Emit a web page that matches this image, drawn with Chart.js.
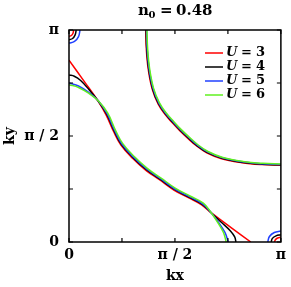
<!DOCTYPE html>
<html>
<head>
<meta charset="utf-8">
<script src="https://cdn.jsdelivr.net/npm/chart.js@4"></script>
<style>
  html, body { margin: 0; padding: 0; background: #fff; }
  #wrap { width: 291px; height: 287px; }
</style>
</head>
<body>
<div id="wrap"><canvas id="chart"></canvas></div>
<script>
// Fermi surface, kx and ky in units of pi
const uValues = [3, 4, 5, 6];
const uColors = ['#ff0000', '#000000', '#2040ff', '#60f020'];

const tickValues = [0, 0.25, 0.5, 0.75, 1];
const tickLabels = ['0', '', 'π / 2', '', 'π'];

// lower-left band
const mainU3 = [[0,0.858],[0.07,0.760],[0.138,0.664],[0.175,0.600],[0.211,0.520],[0.245,0.457],[0.300,0.395],[0.363,0.338],[0.425,0.295],[0.495,0.245],[0.563,0.209],[0.626,0.175],[0.672,0.137],[0.765,0.068],[0.858,0]];
const mainU4 = [[0,0.788],[0.025,0.782],[0.055,0.762],[0.095,0.718],[0.138,0.665],[0.178,0.603],[0.214,0.523],[0.248,0.460],[0.303,0.398],[0.366,0.341],[0.428,0.298],[0.498,0.248],[0.566,0.212],[0.629,0.178],[0.672,0.137],[0.720,0.092],[0.762,0.052],[0.782,0.024],[0.788,0]];
const mainU5 = [[0,0.750],[0.045,0.736],[0.095,0.704],[0.138,0.666],[0.180,0.605],[0.216,0.525],[0.250,0.462],[0.305,0.400],[0.368,0.343],[0.430,0.300],[0.500,0.250],[0.568,0.214],[0.631,0.180],[0.672,0.137],[0.706,0.092],[0.736,0.045],[0.752,0]];
const mainU6 = [[0,0.742],[0.045,0.729],[0.095,0.700],[0.138,0.666],[0.183,0.608],[0.219,0.528],[0.253,0.465],[0.308,0.403],[0.371,0.346],[0.433,0.303],[0.503,0.253],[0.571,0.217],[0.634,0.183],[0.672,0.137],[0.702,0.092],[0.729,0.045],[0.742,0]];

// upper-right band
const outerU3 = [[0.362,1.0],[0.365,0.909],[0.374,0.815],[0.393,0.720],[0.421,0.650],[0.454,0.601],[0.490,0.560],[0.524,0.524],[0.560,0.490],[0.601,0.454],[0.650,0.421],[0.720,0.393],[0.815,0.374],[0.909,0.365],[1.0,0.362]];
const outerU4 = [[0.364,1.0],[0.367,0.911],[0.376,0.817],[0.395,0.722],[0.423,0.652],[0.456,0.603],[0.492,0.562],[0.526,0.526],[0.562,0.492],[0.603,0.456],[0.652,0.423],[0.722,0.395],[0.817,0.376],[0.911,0.367],[1.0,0.364]];
const outerU5 = [[0.366,1.0],[0.369,0.913],[0.378,0.819],[0.397,0.724],[0.425,0.654],[0.458,0.605],[0.494,0.564],[0.528,0.528],[0.564,0.494],[0.605,0.458],[0.654,0.425],[0.724,0.397],[0.819,0.378],[0.913,0.369],[1.0,0.366]];
const outerU6 = [[0.368,1.0],[0.371,0.915],[0.380,0.821],[0.399,0.726],[0.427,0.656],[0.460,0.607],[0.496,0.566],[0.530,0.530],[0.566,0.496],[0.607,0.460],[0.656,0.427],[0.726,0.399],[0.821,0.380],[0.915,0.371],[1.0,0.368]];

// small pockets round (0, pi) and (pi, 0)
const topLeftU3 = [[0,0.970],[0.011,0.974],[0.019,0.985],[0.022,1.0]];
const topLeftU4 = [[0,0.954],[0.017,0.960],[0.029,0.977],[0.034,1.0]];
const topLeftU5 = [[0,0.938],[0.026,0.946],[0.045,0.969],[0.052,1.0]];
const bottomRightU3 = [[0.970,0],[0.974,0.011],[0.985,0.019],[1.0,0.022]];
const bottomRightU4 = [[0.954,0],[0.960,0.017],[0.977,0.029],[1.0,0.034]];
const bottomRightU5 = [[0.938,0],[0.946,0.026],[0.969,0.045],[1.0,0.052]];

const pieces = [
  [mainU3, outerU3, topLeftU3, bottomRightU3],
  [mainU4, outerU4, topLeftU4, bottomRightU4],
  [mainU5, outerU5, topLeftU5, bottomRightU5],
  [mainU6, outerU6],
];

const serif = 'DejaVu Serif';

const datasets = [];
pieces.forEach((list, i) => {
  list.forEach(pts => {
    datasets.push({
      label: 'U = ' + uValues[i],
      data: pts.map(p => ({ x: p[0], y: p[1] })),
      borderColor: uColors[i],
      borderWidth: 1.5,
      pointRadius: 0,
      showLine: true,
      tension: 0.4,
      fill: false,
      order: uValues.length - 1 - i, // U=6 ends up on top
    });
  });
});

// frame with inward ticks, title and legend
const decor = {
  id: 'decor',
  afterDraw(chart) {
    const { ctx, chartArea: a, scales } = chart;
    ctx.save();
    ctx.strokeStyle = '#000';
    ctx.lineWidth = 1.5;
    ctx.strokeRect(a.left, a.top, a.right - a.left, a.bottom - a.top);
    ctx.lineWidth = 1.2;
    ctx.beginPath();
    tickValues.forEach(v => {
      const x = scales.x.getPixelForValue(v);
      const y = scales.y.getPixelForValue(v);
      ctx.moveTo(x, a.bottom); ctx.lineTo(x, a.bottom - 4);
      ctx.moveTo(x, a.top); ctx.lineTo(x, a.top + 4);
      ctx.moveTo(a.left, y); ctx.lineTo(a.left + 4, y);
      ctx.moveTo(a.right, y); ctx.lineTo(a.right - 4, y);
    });
    ctx.stroke();

    // title n_0 = 0.48
    ctx.fillStyle = '#000';
    ctx.textBaseline = 'alphabetic';
    ctx.textAlign = 'left';
    ctx.font = `bold 15px "${serif}"`;
    ctx.fillText('n', 138, 15);
    ctx.font = `bold 10px "${serif}"`;
    ctx.fillText('0', 148.5, 18);
    ctx.font = `bold 15px "${serif}"`;
    ctx.fillText('=', 160, 15);
    ctx.fillText('0.48', 176, 15);

    // legend
    ctx.textBaseline = 'middle';
    uValues.forEach((u, i) => {
      const y = 53 + i * 14;
      ctx.strokeStyle = uColors[i];
      ctx.lineWidth = 1.5;
      ctx.beginPath();
      ctx.moveTo(205, y);
      ctx.lineTo(223, y);
      ctx.stroke();
      ctx.fillStyle = '#000';
      ctx.font = `italic bold 13px "${serif}"`;
      ctx.fillText('U', 226, y);
      ctx.font = `bold 13px "${serif}"`;
      ctx.fillText('=', 241, y);
      ctx.fillText(String(u), 256, y);
    });
    ctx.restore();
  }
};

const axisFont = { family: serif, weight: 'bold', size: 14 };
const titleFont = { family: serif, weight: 'bold', size: 14 };
const labelFor = v => tickLabels[tickValues.indexOf(v)] ?? '';

new Chart(document.getElementById('chart'), {
  type: 'scatter',
  data: { datasets },
  options: {
    responsive: true,
    maintainAspectRatio: false,
    animation: false,
    devicePixelRatio: 1,
    layout: { padding: { top: 30, right: 9, left: 0, bottom: 0 } },
    plugins: {
      legend: { display: false },
      tooltip: { enabled: false },
      title: { display: false },
    },
    scales: {
      x: {
        type: 'linear',
        min: 0,
        max: 1,
        afterFit: s => { s.height = 45; },
        afterBuildTicks: s => { s.ticks = tickValues.map(v => ({ value: v })); },
        grid: { display: false, drawTicks: false },
        border: { display: false },
        ticks: {
          callback: labelFor,
          font: axisFont,
          color: '#000',
          padding: 5,
          maxRotation: 0,
          autoSkip: false,
        },
        title: { display: true, text: 'kx', font: titleFont, color: '#000', padding: { top: 0, bottom: 2 } },
      },
      y: {
        type: 'linear',
        min: 0,
        max: 1,
        afterFit: s => { s.width = 69; },
        afterBuildTicks: s => { s.ticks = tickValues.map(v => ({ value: v })); },
        grid: { display: false, drawTicks: false },
        border: { display: false },
        ticks: {
          callback: labelFor,
          font: axisFont,
          color: '#000',
          padding: 10,
          autoSkip: false,
        },
        title: { display: true, text: 'ky', font: titleFont, color: '#000', padding: { top: 2, bottom: 0 } },
      },
    },
  },
  plugins: [decor],
});
</script>
</body>
</html>
